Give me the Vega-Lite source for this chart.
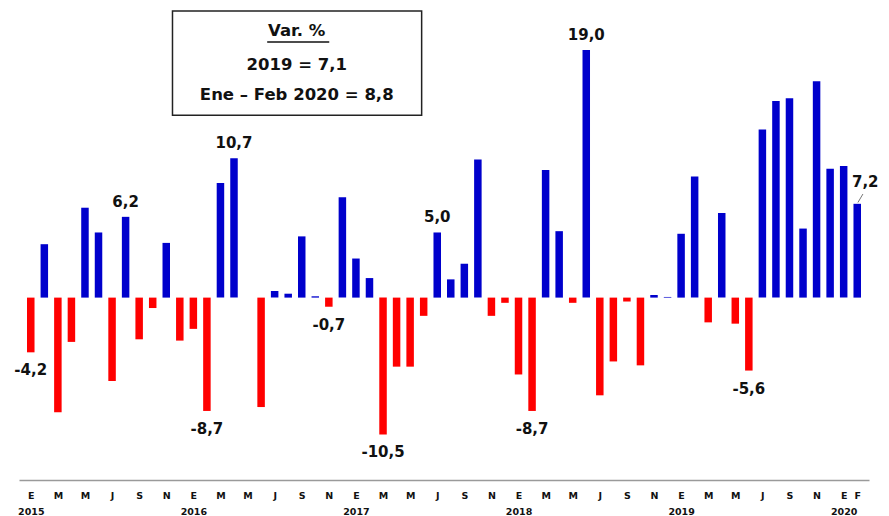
{
  "$schema": "https://vega.github.io/schema/vega-lite/v6.json",
  "autosize": {"type": "none"},
  "width": 850,
  "height": 469,
  "padding": {"left": 19, "top": 11, "right": 20, "bottom": 36},
  "background": "white",
  "config": {
    "view": {"stroke": null},
    "axis": {"grid": false, "labelOverlap": false}
  },
  "datasets": {
    "m": [
      {"idx": 1, "v": -4.2, "lbl": "-4,2"},
      {"idx": 2, "v": 4.1},
      {"idx": 3, "v": -8.8},
      {"idx": 4, "v": -3.4},
      {"idx": 5, "v": 6.9},
      {"idx": 6, "v": 5.0},
      {"idx": 7, "v": -6.4},
      {"idx": 8, "v": 6.2, "lbl": "6,2"},
      {"idx": 9, "v": -3.2},
      {"idx": 10, "v": -0.8},
      {"idx": 11, "v": 4.2},
      {"idx": 12, "v": -3.3},
      {"idx": 13, "v": -2.4},
      {"idx": 14, "v": -8.7, "lbl": "-8,7"},
      {"idx": 15, "v": 8.8},
      {"idx": 16, "v": 10.7, "lbl": "10,7"},
      {"idx": 17, "v": 0},
      {"idx": 18, "v": -8.4},
      {"idx": 19, "v": 0.5},
      {"idx": 20, "v": 0.3},
      {"idx": 21, "v": 4.7},
      {"idx": 22, "v": 0.1},
      {"idx": 23, "v": -0.7, "lbl": "-0,7"},
      {"idx": 24, "v": 7.7},
      {"idx": 25, "v": 3.0},
      {"idx": 26, "v": 1.5},
      {"idx": 27, "v": -10.5, "lbl": "-10,5"},
      {"idx": 28, "v": -5.3},
      {"idx": 29, "v": -5.3},
      {"idx": 30, "v": -1.4},
      {"idx": 31, "v": 5.0, "lbl": "5,0"},
      {"idx": 32, "v": 1.4},
      {"idx": 33, "v": 2.6},
      {"idx": 34, "v": 10.6},
      {"idx": 35, "v": -1.4},
      {"idx": 36, "v": -0.4},
      {"idx": 37, "v": -5.9},
      {"idx": 38, "v": -8.7, "lbl": "-8,7"},
      {"idx": 39, "v": 9.8},
      {"idx": 40, "v": 5.1},
      {"idx": 41, "v": -0.4},
      {"idx": 42, "v": 19.0, "lbl": "19,0"},
      {"idx": 43, "v": -7.5},
      {"idx": 44, "v": -4.9},
      {"idx": 45, "v": -0.3},
      {"idx": 46, "v": -5.2},
      {"idx": 47, "v": 0.2},
      {"idx": 48, "v": 0.05},
      {"idx": 49, "v": 4.9},
      {"idx": 50, "v": 9.3},
      {"idx": 51, "v": -1.9},
      {"idx": 52, "v": 6.5},
      {"idx": 53, "v": -2.0},
      {"idx": 54, "v": -5.6, "lbl": "-5,6"},
      {"idx": 55, "v": 12.9},
      {"idx": 56, "v": 15.1},
      {"idx": 57, "v": 15.3},
      {"idx": 58, "v": 5.3},
      {"idx": 59, "v": 16.6},
      {"idx": 60, "v": 9.9},
      {"idx": 61, "v": 10.1},
      {"idx": 62, "v": 7.2, "lbl": "7,2"}
    ],
    "box": [{"x1": 11.46, "x2": 29.85, "y1": 14.0, "y2": 22.0}],
    "notes": [
      {"t": "Var. %", "x": 20.63, "y": 20.45},
      {"t": "2019 = 7,1", "x": 20.63, "y": 17.85},
      {"t": "Ene – Feb 2020 = 8,8", "x": 20.63, "y": 15.55}
    ],
    "uline": [{"x1": 18.45, "x2": 23.03, "y": 19.62}],
    "leader": [{"x1": 62.05, "x2": 62.42, "y1": 7.3, "y2": 7.95}]
  },
  "layer": [
    {
      "data": {"name": "m"},
      "mark": {"type": "bar", "width": 7.5},
      "encoding": {
        "x": {
          "field": "idx",
          "type": "quantitative",
          "scale": {"domain": [0.5, 62.5], "nice": false, "zero": false},
          "axis": {
            "title": null,
            "values": [1, 3, 5, 7, 9, 11, 13, 15, 17, 19, 21, 23, 25, 27, 29, 31, 33, 35, 37, 39, 41, 43, 45, 47, 49, 51, 53, 55, 57, 59, 61, 62],
            "tickCount": 200,
            "labelExpr": "[['E','F','M','A','M','J','J','A','S','O','N','D'][(datum.value - 1) % 12], (datum.value - 1) % 12 == 0 ? '' + (2015 + floor((datum.value - 1) / 12)) : '']",
            "ticks": false,
            "domainColor": "#9a9a9a",
            "domainWidth": 1.5,
            "labelFont": "DejaVu Sans",
            "labelFontWeight": "bold",
            "labelFontSize": 9.5,
            "labelColor": "#111111",
            "labelPadding": 10,
            "labelLineHeight": 16,
            "labelOverlap": false,
            "labelFlush": false,
            "labelBound": false
          }
        },
        "y": {
          "field": "v",
          "type": "quantitative",
          "scale": {"domain": [-14, 22], "nice": false},
          "axis": null
        },
        "color": {
          "condition": {"test": "datum.v >= 0", "value": "#0000CC"},
          "value": "#FF0000"
        }
      }
    },
    {
      "data": {"name": "m"},
      "transform": [{"filter": "datum.lbl && datum.v >= 0 && datum.idx != 62"}],
      "mark": {"type": "text", "font": "DejaVu Sans", "fontWeight": "bold", "fontSize": 15, "baseline": "middle", "dy": -15, "color": "#111111"},
      "encoding": {
        "x": {"field": "idx", "type": "quantitative"},
        "y": {"field": "v", "type": "quantitative"},
        "text": {"field": "lbl"}
      }
    },
    {
      "data": {"name": "m"},
      "transform": [{"filter": "datum.lbl && datum.v < 0"}],
      "mark": {"type": "text", "font": "DejaVu Sans", "fontWeight": "bold", "fontSize": 15, "baseline": "middle", "dy": 18, "color": "#111111"},
      "encoding": {
        "x": {"field": "idx", "type": "quantitative"},
        "y": {"field": "v", "type": "quantitative"},
        "text": {"field": "lbl"}
      }
    },
    {
      "data": {"name": "m"},
      "transform": [{"filter": "datum.idx == 62"}],
      "mark": {"type": "text", "font": "DejaVu Sans", "fontWeight": "bold", "fontSize": 15, "baseline": "middle", "dx": 8, "dy": -22, "color": "#111111"},
      "encoding": {
        "x": {"field": "idx", "type": "quantitative"},
        "y": {"field": "v", "type": "quantitative"},
        "text": {"field": "lbl"}
      }
    },
    {
      "data": {"name": "leader"},
      "mark": {"type": "rule", "color": "#777777", "strokeWidth": 1},
      "encoding": {
        "x": {"field": "x1", "type": "quantitative"},
        "x2": {"field": "x2"},
        "y": {"field": "y1", "type": "quantitative"},
        "y2": {"field": "y2"}
      }
    },
    {
      "data": {"name": "box"},
      "mark": {"type": "rect", "fill": null, "fillOpacity": 0, "stroke": "#222222", "strokeWidth": 1.5},
      "encoding": {
        "x": {"field": "x1", "type": "quantitative"},
        "x2": {"field": "x2"},
        "y": {"field": "y1", "type": "quantitative"},
        "y2": {"field": "y2"}
      }
    },
    {
      "data": {"name": "notes"},
      "mark": {"type": "text", "font": "DejaVu Sans", "fontWeight": "bold", "fontSize": 16.5, "baseline": "middle", "align": "center", "color": "#111111"},
      "encoding": {
        "x": {"field": "x", "type": "quantitative"},
        "y": {"field": "y", "type": "quantitative"},
        "text": {"field": "t"}
      }
    },
    {
      "data": {"name": "uline"},
      "mark": {"type": "rule", "color": "#111111", "strokeWidth": 1.5},
      "encoding": {
        "x": {"field": "x1", "type": "quantitative"},
        "x2": {"field": "x2"},
        "y": {"field": "y", "type": "quantitative"}
      }
    }
  ]
}
